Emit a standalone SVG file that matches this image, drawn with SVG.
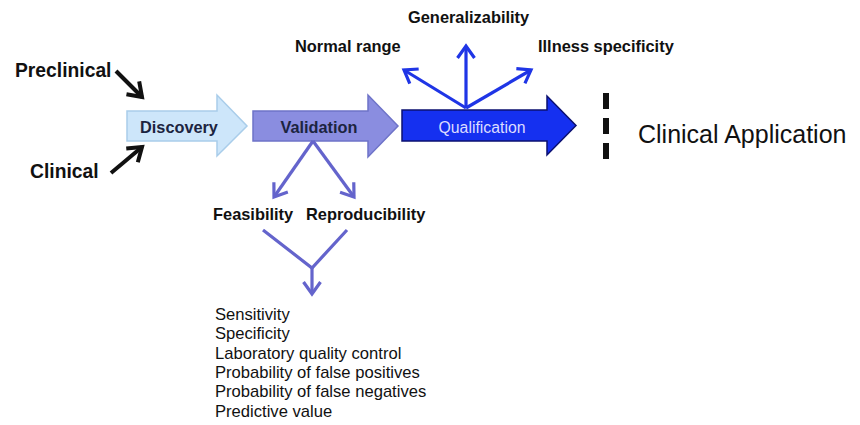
<svg xmlns="http://www.w3.org/2000/svg" width="860" height="425" viewBox="0 0 860 425">
<defs>
<style>
.big{font-family:"Liberation Sans",Arial,sans-serif;font-weight:bold;font-size:19.3px;fill:#111;}
.mid{font-family:"Liberation Sans",Arial,sans-serif;font-weight:bold;font-size:16.4px;fill:#111;}
.lst{font-family:"Liberation Sans",Arial,sans-serif;font-size:16.6px;fill:#111;}
.blk{stroke:#111;stroke-width:4;fill:none;}
.blu{stroke:#1f35e6;stroke-width:3.2;fill:none;}
.pur{stroke:#6464cc;stroke-width:3.2;fill:none;}
</style>
<marker id="mb" markerUnits="userSpaceOnUse" markerWidth="30" markerHeight="30" viewBox="-15 -15 30 30" refX="0" refY="0" orient="auto" overflow="visible">
<path d="M-13,-9 L0,0 L-13,9" fill="none" stroke="#111" stroke-width="4"/>
</marker>
<marker id="mu" markerUnits="userSpaceOnUse" markerWidth="30" markerHeight="30" viewBox="-15 -15 30 30" refX="0" refY="0" orient="auto" overflow="visible">
<path d="M-12,-8.5 L0,0 L-12,8.5" fill="none" stroke="#1f35e6" stroke-width="3.2"/>
</marker>
<marker id="mp" markerUnits="userSpaceOnUse" markerWidth="30" markerHeight="30" viewBox="-15 -15 30 30" refX="0" refY="0" orient="auto" overflow="visible">
<path d="M-12,-8.5 L0,0 L-12,8.5" fill="none" stroke="#6464cc" stroke-width="3.2"/>
</marker>
</defs>
<rect width="860" height="425" fill="#ffffff"/>

<g id="discovery">
<polygon points="127,111 217,111 217,95 247,126 217,156 217,141 127,141" fill="#cde6fa" stroke="#a9cdea" stroke-width="1.5"/>
<text x="179" y="133" text-anchor="middle" font-family="Liberation Sans, Arial, sans-serif" font-weight="bold" font-size="16.3" fill="#1c2440">Discovery</text>
</g>
<g id="validation">
<polygon points="253,111 368,111 368,95 398,126 368,157 368,141 253,141" fill="#8a8de0" stroke="#6e73c8" stroke-width="1.5"/>
<text x="319" y="133" text-anchor="middle" font-family="Liberation Sans, Arial, sans-serif" font-weight="bold" font-size="16.3" fill="#1c2440">Validation</text>
</g>
<g id="qualification">
<polygon points="402,110 547,110 547,96 576,125.5 547,155 547,141 402,141" fill="#1530f0" stroke="#0b1070" stroke-width="1.5"/>
<text x="482" y="133" text-anchor="middle" font-family="Liberation Sans, Arial, sans-serif" font-size="15.8" fill="#dcdcff">Qualification</text>
</g>
<g id="barrier">
<rect x="603" y="93" width="6" height="16" fill="#111"/>
<rect x="603" y="118" width="6" height="16" fill="#111"/>
<rect x="603" y="143" width="6" height="16" fill="#111"/>
</g>
<g id="clinical-application">
<text x="638" y="143" font-family="Liberation Sans, Arial, sans-serif" font-size="25" fill="#111">Clinical Application</text>
</g>
<g id="preclinical">
<text x="15" y="77" class="big">Preclinical</text>
</g>
<g id="clinical">
<text x="30" y="178" class="big">Clinical</text>
</g>
<g id="normal-range"><text x="295" y="52" class="mid">Normal range</text></g>
<g id="generalizability"><text x="408" y="23" class="mid">Generalizability</text></g>
<g id="illness-specificity"><text x="538" y="52" class="mid">Illness specificity</text></g>
<g id="feasibility"><text x="213" y="220" class="mid">Feasibility</text></g>
<g id="reproducibility"><text x="306" y="220" class="mid">Reproducibility</text></g>
<g id="criteria">
<text class="lst" x="215" y="320">Sensitivity</text>
<text class="lst" x="215" y="339.3">Specificity</text>
<text class="lst" x="215" y="358.6">Laboratory quality control</text>
<text class="lst" x="215" y="377.9">Probability of false positives</text>
<text class="lst" x="215" y="397.2">Probability of false negatives</text>
<text class="lst" x="215" y="416.5">Predictive value</text>
</g>

<g id="connectors">
<line class="blk" x1="116" y1="71" x2="142" y2="97" marker-end="url(#mb)"/>
<line class="blk" x1="111" y1="173" x2="142" y2="147" marker-end="url(#mb)"/>
<line class="blu" x1="466" y1="108" x2="404" y2="70" marker-end="url(#mu)"/>
<line class="blu" x1="466" y1="108" x2="466" y2="46" marker-end="url(#mu)"/>
<line class="blu" x1="466" y1="108" x2="531" y2="70" marker-end="url(#mu)"/>
<line class="pur" x1="313" y1="141" x2="274" y2="197" marker-end="url(#mp)"/>
<line class="pur" x1="313" y1="141" x2="354" y2="197" marker-end="url(#mp)"/>
<polyline class="pur" points="263,230 312,268 347,230"/>
<line class="pur" x1="312" y1="268" x2="312" y2="294" marker-end="url(#mp)"/>
</g>
</svg>
